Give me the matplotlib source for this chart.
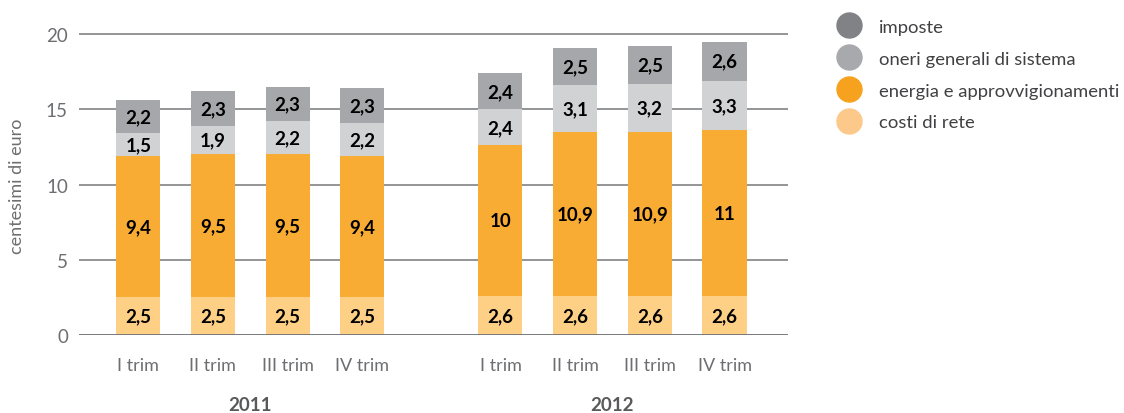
import matplotlib.pyplot as plt
import numpy as np
from matplotlib.lines import Line2D

plt.rcParams['font.family'] = ['Lato', 'DejaVu Sans']

# data
trimestri = ['I trim', 'II trim', 'III trim', 'IV trim']
anni = ['2011', '2012']
costi_rete = [2.5, 2.5, 2.5, 2.5, 2.6, 2.6, 2.6, 2.6]
energia = [9.4, 9.5, 9.5, 9.4, 10, 10.9, 10.9, 11]
oneri = [1.5, 1.9, 2.2, 2.2, 2.4, 3.1, 3.2, 3.3]
imposte = [2.2, 2.3, 2.3, 2.3, 2.4, 2.5, 2.5, 2.6]

serie = [
    ('costi di rete', costi_rete, '#fdd085', '#fcc98a'),
    ('energia e approvvigionamenti', energia, '#f9ac33', '#f7a21f'),
    ('oneri generali di sistema', oneri, '#d1d2d4', '#a7a9ac'),
    ('imposte', imposte, '#a6a7aa', '#808285'),
]

# bar positions: two groups of four with a gap in between
gap = 1.85
x = np.concatenate([np.arange(4), np.arange(4) + 3 + gap])

fig = plt.figure(figsize=(11.24, 4.14), dpi=100)
ax = fig.add_axes([79 / 1124, 78 / 414, (788 - 79) / 1124, 331 / 414])

bottom = np.zeros(len(x))
for nome, vals, col, _ in serie:
    vals = np.array(vals, dtype=float)
    ax.bar(x, vals, width=0.59, bottom=bottom, color=col, zorder=3)
    for xi, b, v in zip(x, bottom, vals):
        lab = ('%g' % v).replace('.', ',')
        ax.text(xi, b + v / 2, lab, ha='center', va='center',
                fontsize=13.5, fontweight='bold', color='black', zorder=4)
    bottom += vals

ax.set_xlim(-0.793, x[-1] + 0.85)
ax.set_ylim(0, 22)
ax.set_yticks([0, 5, 10, 15, 20])
for yv in [5, 10, 15, 20]:
    ax.axhline(yv, color='#77787b', linewidth=1.1, zorder=1)
ax.axhline(0, color='#6d6e71', linewidth=2, zorder=5)

for s in ax.spines.values():
    s.set_visible(False)

ax.set_xticks(x)
ax.set_xticklabels(trimestri * 2)
ax.tick_params(axis='x', length=0, pad=16, labelsize=13, labelcolor='#6d6e71')
ax.tick_params(axis='y', length=0, pad=8, labelsize=13.5, labelcolor='#6d6e71')
ax.set_ylabel('centesimi di euro', fontsize=13, color='#6d6e71')
ax.yaxis.set_label_coords(-54 / 709, 150 / 331)

# year labels under the groups
for i, anno in enumerate(anni):
    xc = x[i * 4:(i + 1) * 4].mean()
    ax.annotate(anno, xy=(xc, 0), xycoords=('data', 'axes fraction'),
                xytext=(0, -50), textcoords='offset points',
                ha='center', va='center', fontsize=13.5, fontweight='bold',
                color='#58595b')

# legend
handles = []
for nome, vals, _, lcol in serie[::-1]:
    handles.append(Line2D([], [], marker='o', linestyle='none', markersize=18,
                          markerfacecolor=lcol, markeredgecolor=lcol, label=nome))
leg = fig.legend(handles=handles, loc='upper left', bbox_to_anchor=(822 / 1124, 1 - 5 / 414),
                 frameon=False, fontsize=13.3, labelspacing=0.86, handletextpad=1.0,
                 handlelength=1.3, borderaxespad=0.4)
for t in leg.get_texts():
    t.set_color('#414042')

fig.savefig('out.png', dpi=100)
